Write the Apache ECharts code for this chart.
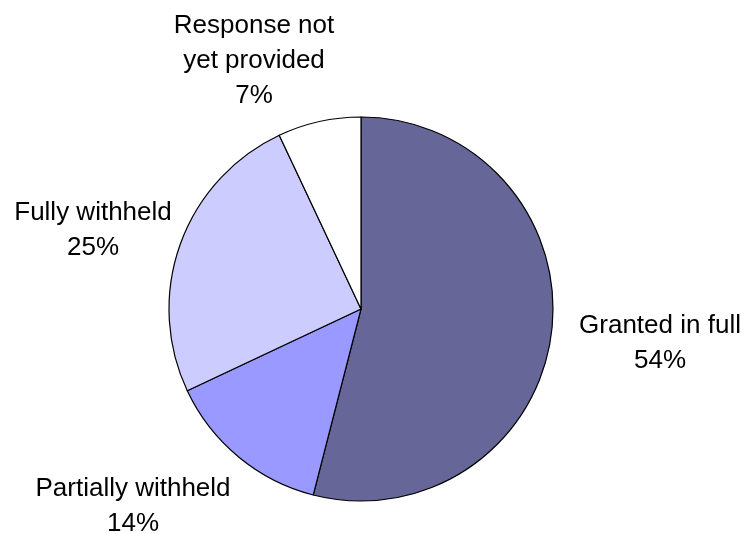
<!DOCTYPE html>
<html>
<head>
<meta charset="utf-8">
<script src="https://cdn.jsdelivr.net/npm/echarts@6/dist/echarts.min.js"></script>
<style>html,body{margin:0;padding:0;background:#fff}#c{width:745px;height:534px}</style>
</head>
<body>
<div id="c"></div>
<script>
const categories = ['Granted in full', 'Partially withheld', 'Fully withheld', 'Response not\nyet provided'];
const values = [54, 14, 25, 7];
const colors = ['#666699', '#9999FF', '#CCCCFF', '#FFFFFF'];

const labelCenters = [[660, 343], [133, 506], [93, 230], [254, 61]];

const chart = echarts.init(document.getElementById('c'), null, {renderer: 'canvas'});
chart.setOption({
  animation: false,
  backgroundColor: '#ffffff',
  series: [{
    type: 'pie',
    center: [361, 309],
    radius: [0, 192],
    startAngle: 90,
    clockwise: true,
    silent: true,
    data: categories.map((c, i) => ({name: c, value: values[i], itemStyle: {color: colors[i]}})),
    itemStyle: {borderColor: '#000', borderWidth: 1.2},
    label: {
      show: true,
      position: 'outside',
      formatter: '{b}\n{c}%',
      fontFamily: 'Liberation Sans, Arial, sans-serif',
      fontSize: 26,
      lineHeight: 35,
      color: '#000',
      align: 'center',
      overflow: 'none',
      width: 400
    },
    labelLine: {show: false},
    labelLayout: function (p) {
      const pc = labelCenters[p.dataIndex];
      return {x: pc[0], y: pc[1], align: 'center', verticalAlign: 'middle', width: 400};
    },
    emphasis: {disabled: true}
  }]
});
</script>
</body>
</html>
